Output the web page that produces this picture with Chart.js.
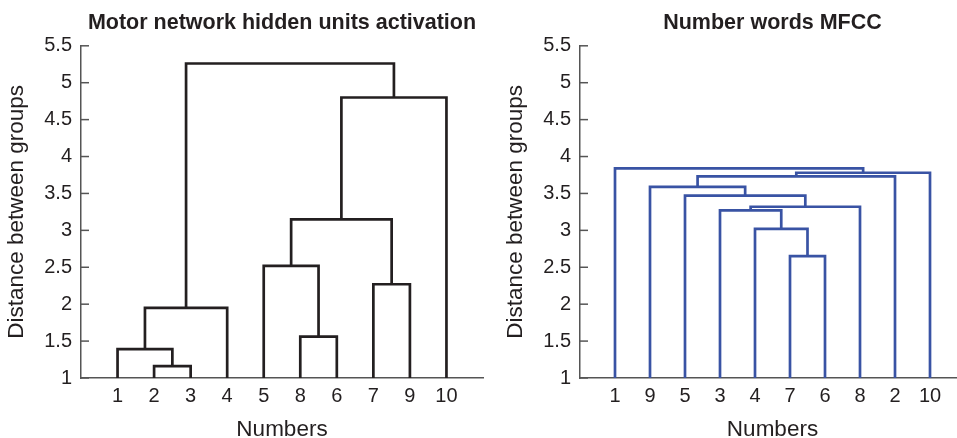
<!DOCTYPE html>
<html><head><meta charset="utf-8">
<script src="https://cdn.jsdelivr.net/npm/chart.js@4/dist/chart.umd.min.js"></script>
<style>
html,body{margin:0;padding:0;width:957px;height:438px;overflow:hidden;background:#fff;}
#l{position:absolute;left:0;top:0;width:484px;height:438px;}
#r{position:absolute;left:499px;top:0;width:466px;height:438px;}
</style></head><body>
<div id="l"><canvas id="cl"></canvas></div>
<div id="r"><canvas id="cr"></canvas></div>
<script>
// ---- data ----
const leftTitle = 'Motor network hidden units activation';
const leftLeaves = ['1','2','3','4','5','8','6','7','9','10'];
// merges: indices 0-9 are leaves, 10+ are earlier merges (in order)
const leftPairs = [[1,2],[0,10],[11,3],[5,6],[4,13],[7,8],[14,15],[16,9],[12,17]];
const leftHeights = [1.16, 1.39, 1.95, 1.56, 2.52, 2.27, 3.15, 4.80, 5.26];

const rightTitle = 'Number words MFCC';
const rightLeaves = ['1','9','5','3','4','7','6','8','2','10'];
const rightPairs = [[5,6],[4,10],[3,11],[12,7],[2,13],[1,14],[15,8],[16,9],[0,17]];
const rightHeights = [2.65, 3.02, 3.27, 3.32, 3.47, 3.59, 3.73, 3.78, 3.84];

const yTickValues = [1,1.5,2,2.5,3,3.5,4,4.5,5,5.5];
const xTitle = 'Numbers';
const yTitle = 'Distance between groups';

// ---- drawing ----
const FAM = "'Liberation Sans', Arial, Helvetica, sans-serif";
Chart.defaults.font.family = FAM;
const TXT = '#231f20';
const AXIS = '#555555';

const innerTicks = {
  id: 'innerTicks',
  afterDraw(chart) {
    const {ctx, chartArea: a, scales: {y}} = chart;
    ctx.save();
    ctx.strokeStyle = AXIS; ctx.lineWidth = 1.5;
    y.ticks.forEach(t => {
      const p = y.getPixelForValue(t.value);
      ctx.beginPath(); ctx.moveTo(a.left, p); ctx.lineTo(a.left + 8, p); ctx.stroke();
    });
    ctx.restore();
  }
};

function build(id, title, leaves, pairs, heights, color, padR) {
  const xs = leaves.map((_, i) => i + 1);
  const ys = leaves.map(() => 1);
  const datasets = [];
  pairs.forEach(([a, b], k) => {
    const h = heights[k];
    datasets.push({
      data: [{x: xs[a], y: ys[a]}, {x: xs[a], y: h}, {x: xs[b], y: h}, {x: xs[b], y: ys[b]}],
      borderColor: color, borderWidth: 2.7, pointRadius: 0, fill: false, tension: 0,
      borderJoinStyle: 'miter', borderCapStyle: 'butt'
    });
    xs.push((xs[a] + xs[b]) / 2);
    ys.push(h);
  });
  new Chart(document.getElementById(id), {
    type: 'line',
    data: {datasets},
    plugins: [innerTicks],
    options: {
      responsive: true, maintainAspectRatio: false, animation: false,
      layout: {padding: {left: 0, right: padR, top: 0, bottom: 0}},
      plugins: {
        legend: {display: false}, tooltip: {enabled: false},
        title: {display: true, text: title, fullSize: false, color: TXT,
          font: {size: 21.5, weight: 'bold', lineHeight: 1.2}, padding: {top: 10, bottom: 10}}
      },
      scales: {
        x: {
          type: 'linear', min: 0, max: 11,
          grid: {display: true, drawOnChartArea: false, drawTicks: false},
          border: {display: true, color: AXIS, width: 1.5},
          afterBuildTicks: s => { s.ticks = leaves.map((_, i) => ({value: i + 1})); },
          afterFit: s => { s.height = 60; },
          ticks: {autoSkip: false, maxRotation: 0, minRotation: 0, padding: 6, color: TXT,
            font: {size: 20}, callback: v => leaves[v - 1]},
          title: {display: true, text: xTitle, color: TXT, font: {size: 22.5, lineHeight: 1}, padding: {top: 0, bottom: -3}}
        },
        y: {
          min: 1, max: 5.5,
          grid: {display: true, drawOnChartArea: false, drawTicks: false},
          border: {display: true, color: AXIS, width: 1.5},
          afterBuildTicks: s => { s.ticks = yTickValues.map(v => ({value: v})); },
          afterFit: s => { s.width = 81; },
          ticks: {padding: 9, color: TXT, font: {size: 20}, callback: v => String(v)},
          title: {display: true, text: yTitle, color: TXT, font: {size: 22.5, lineHeight: 1.2}, padding: {top: 3, bottom: 0}}
        }
      }
    }
  });
}

build('cl', leftTitle, leftLeaves, leftPairs, leftHeights, '#231f20', 1);
build('cr', rightTitle, rightLeaves, rightPairs, rightHeights, '#3953a4', 0);
</script>
</body></html>
